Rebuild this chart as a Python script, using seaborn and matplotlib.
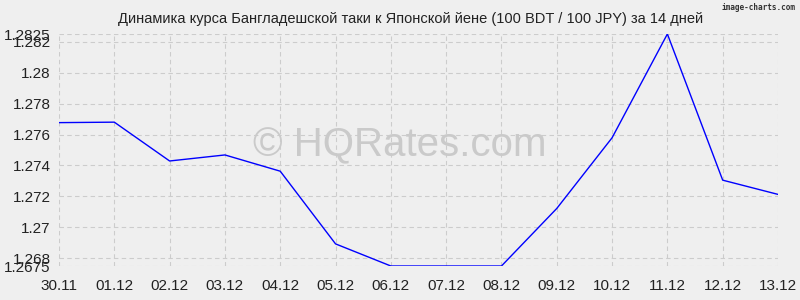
import matplotlib
matplotlib.use("Agg")
import matplotlib.pyplot as plt
import seaborn as sns
import pandas as pd

dates = ["30.11", "01.12", "02.12", "03.12", "04.12", "05.12", "06.12",
         "07.12", "08.12", "09.12", "10.12", "11.12", "12.12", "13.12"]
rates = [1.27677, 1.2768, 1.27429, 1.27468, 1.27363, 1.26893, 1.2675,
         1.2675, 1.2675, 1.27122, 1.27579, 1.2825, 1.27305, 1.27213]
y_ticks = [1.2675, 1.268, 1.27, 1.272, 1.274, 1.276, 1.278, 1.28, 1.282, 1.2825]
y_labels = ["1.2675", "1.268", "1.27", "1.272", "1.274", "1.276", "1.278", "1.28", "1.282", "1.2825"]

sns.set_style("white")
plt.rcParams['font.family'] = ['Liberation Sans', 'DejaVu Sans']

df = pd.DataFrame({"idx": range(len(dates)), "rate": rates})

fig = plt.figure(figsize=(8, 3), dpi=100, facecolor="#efefef")
ax = fig.add_axes([59/800, 34/300, 719/800, 232/300])
ax.set_facecolor("#efefef")

sns.lineplot(data=df, x="idx", y="rate", ax=ax, color="#0000ff", linewidth=1)

ax.set_xlim(0, len(dates) - 1)
ax.set_ylim(1.2675, 1.2825)
ax.set_xticks(range(len(dates)))
ax.set_xticklabels(dates, fontsize=11, color="#222222")
ax.set_yticks(y_ticks)
ax.set_yticklabels(y_labels, fontsize=11, color="#222222")
ax.tick_params(axis="both", length=0, pad=6)
ax.tick_params(axis="x", pad=9)
ax.grid(True, color="#cccccc", linestyle=(0, (4, 3)), linewidth=0.8)
for s in ax.spines.values():
    s.set_visible(False)
ax.set_xlabel("")
ax.set_ylabel("")

fig.text(400/800, 1 - 145/300, "© HQRates.com", fontsize=29,
         color="#cacaca", ha="center", va="center", zorder=0)

fig.text(411/800, 1 - 19/300, "Динамика курса Бангладешской таки к Японской йене (100 BDT / 100 JPY) за 14 дней",
         ha="center", va="center", fontsize=10.5, color="#222222")
fig.text(795/800, 1 - 8/300, "image-charts.com", ha="right", va="center", fontsize=5.6,
         color="#333333", family="DejaVu Sans Mono", fontweight="bold")

fig.savefig("out.png", dpi=100, facecolor="#efefef")
